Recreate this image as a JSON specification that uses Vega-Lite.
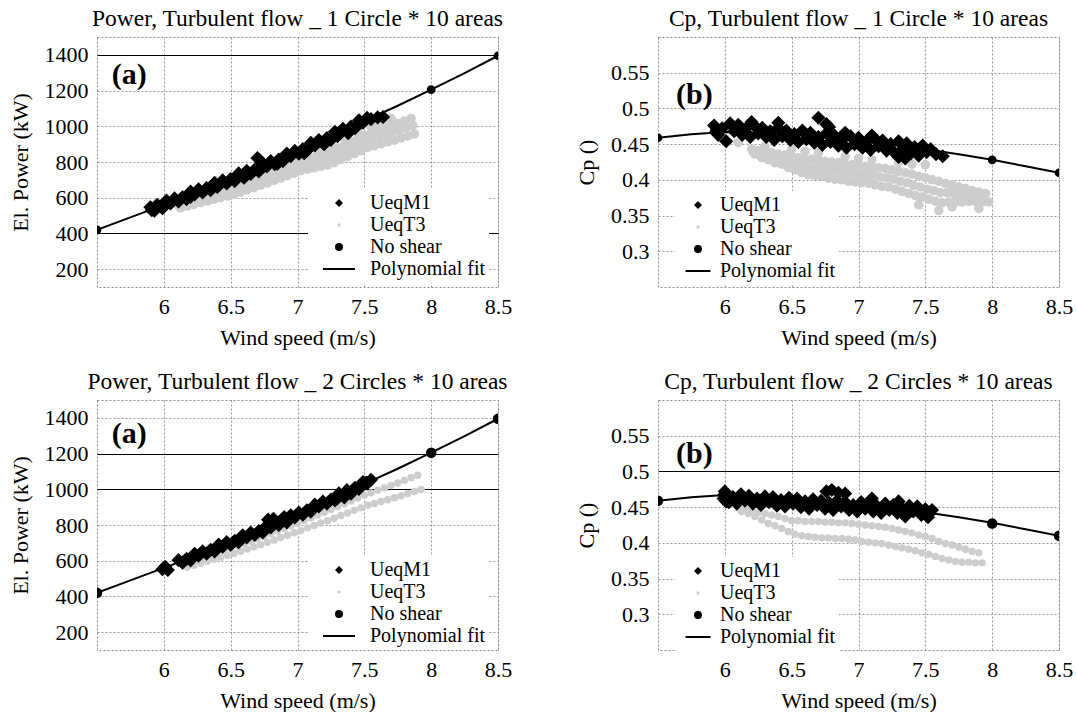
{
"$schema": "https://vega.github.io/schema/vega-lite/v6.json",
"background": "white",
"padding": {"left": 8, "top": 6, "right": 0, "bottom": 0},
"config": {
  "font": "Liberation Serif",
  "view": {"stroke": "#888", "strokeDash": [2, 2], "strokeWidth": 1},
  "style": {"guide-label": {"font": "Liberation Serif", "fill": "#000"}, "guide-title": {"font": "Liberation Serif", "fill": "#000"}},
  "axis": {"labelFont": "Liberation Serif", "labelFontSize": 22, "labelColor": "#000", "titleFont": "Liberation Serif", "titleFontSize": 22, "titleFontWeight": "normal", "titleColor": "#000", "ticks": false, "domain": false, "grid": true, "gridColor": "#999", "gridDash": [2, 2], "gridOpacity": 1, "labelPadding": 9, "labelFlush": false, "labelOverlap": false},
  "axisX": {"titlePadding": 10},
  "axisY": {"titlePadding": 12},
  "title": {"font": "Liberation Serif", "fontSize": 23.5, "fontWeight": "normal", "color": "#000", "offset": 7},
  "legend": {"labelFont": "Liberation Serif", "labelFontSize": 20, "labelColor": "#000"}
},
"datasets": {
"power1": [
{"s":"UeqT3","x":6.1,"y":563},{"s":"UeqT3","x":6.125,"y":543},{"s":"UeqT3","x":6.15,"y":575},{"s":"UeqT3","x":6.175,"y":553},{"s":"UeqT3","x":6.2,"y":586},{"s":"UeqT3","x":6.225,"y":562},{"s":"UeqT3","x":6.25,"y":598},{"s":"UeqT3","x":6.275,"y":572},{"s":"UeqT3","x":6.3,"y":609},{"s":"UeqT3","x":6.325,"y":581},{"s":"UeqT3","x":6.35,"y":621},{"s":"UeqT3","x":6.375,"y":591},{"s":"UeqT3","x":6.4,"y":632},{"s":"UeqT3","x":6.425,"y":600},{"s":"UeqT3","x":6.45,"y":644},{"s":"UeqT3","x":6.475,"y":610},{"s":"UeqT3","x":6.5,"y":655},{"s":"UeqT3","x":6.525,"y":619},{"s":"UeqT3","x":6.55,"y":669},{"s":"UeqT3","x":6.575,"y":631},{"s":"UeqT3","x":6.6,"y":683},{"s":"UeqT3","x":6.625,"y":645},{"s":"UeqT3","x":6.65,"y":696},{"s":"UeqT3","x":6.675,"y":657},{"s":"UeqT3","x":6.7,"y":710},{"s":"UeqT3","x":6.725,"y":670},{"s":"UeqT3","x":6.75,"y":724},{"s":"UeqT3","x":6.775,"y":682},{"s":"UeqT3","x":6.8,"y":739},{"s":"UeqT3","x":6.825,"y":697},{"s":"UeqT3","x":6.85,"y":753},{"s":"UeqT3","x":6.875,"y":710},{"s":"UeqT3","x":6.9,"y":768},{"s":"UeqT3","x":6.925,"y":724},{"s":"UeqT3","x":6.95,"y":783},{"s":"UeqT3","x":6.975,"y":737},{"s":"UeqT3","x":7.0,"y":798},{"s":"UeqT3","x":7.025,"y":752},{"s":"UeqT3","x":7.05,"y":810},{"s":"UeqT3","x":7.075,"y":760},{"s":"UeqT3","x":7.1,"y":822},{"s":"UeqT3","x":7.125,"y":767},{"s":"UeqT3","x":7.15,"y":834},{"s":"UeqT3","x":7.175,"y":776},{"s":"UeqT3","x":7.2,"y":846},{"s":"UeqT3","x":7.225,"y":783},{"s":"UeqT3","x":7.25,"y":860},{"s":"UeqT3","x":7.275,"y":796},{"s":"UeqT3","x":7.3,"y":878},{"s":"UeqT3","x":7.325,"y":814},{"s":"UeqT3","x":7.35,"y":895},{"s":"UeqT3","x":7.375,"y":830},{"s":"UeqT3","x":7.4,"y":913},{"s":"UeqT3","x":7.425,"y":847},{"s":"UeqT3","x":7.45,"y":930},{"s":"UeqT3","x":7.475,"y":864},{"s":"UeqT3","x":7.5,"y":948},{"s":"UeqT3","x":7.525,"y":882},{"s":"UeqT3","x":7.55,"y":961},{"s":"UeqT3","x":7.575,"y":892},{"s":"UeqT3","x":7.6,"y":974},{"s":"UeqT3","x":7.625,"y":902},{"s":"UeqT3","x":7.65,"y":988},{"s":"UeqT3","x":7.675,"y":913},{"s":"UeqT3","x":7.7,"y":1001},{"s":"UeqT3","x":7.725,"y":922},{"s":"UeqT3","x":7.75,"y":1015},{"s":"UeqT3","x":7.775,"y":935},{"s":"UeqT3","x":7.8,"y":1029},{"s":"UeqT3","x":7.825,"y":946},{"s":"UeqT3","x":7.85,"y":1044},{"s":"UeqT3","x":7.875,"y":957},
{"s":"UeqT3","x":6.1125,"y":555},{"s":"UeqT3","x":6.1625,"y":566},{"s":"UeqT3","x":6.2125,"y":576},{"s":"UeqT3","x":6.2625,"y":587},{"s":"UeqT3","x":6.3125,"y":597},{"s":"UeqT3","x":6.3625,"y":608},{"s":"UeqT3","x":6.4125,"y":618},{"s":"UeqT3","x":6.4625,"y":629},{"s":"UeqT3","x":6.5125,"y":640},{"s":"UeqT3","x":6.5625,"y":654},{"s":"UeqT3","x":6.6125,"y":667},{"s":"UeqT3","x":6.6625,"y":680},{"s":"UeqT3","x":6.7125,"y":693},{"s":"UeqT3","x":6.7625,"y":707},{"s":"UeqT3","x":6.8125,"y":721},{"s":"UeqT3","x":6.8625,"y":735},{"s":"UeqT3","x":6.9125,"y":749},{"s":"UeqT3","x":6.9625,"y":764},{"s":"UeqT3","x":7.0125,"y":777},{"s":"UeqT3","x":7.0625,"y":787},{"s":"UeqT3","x":7.1125,"y":797},{"s":"UeqT3","x":7.1625,"y":807},{"s":"UeqT3","x":7.2125,"y":818},{"s":"UeqT3","x":7.2625,"y":832},{"s":"UeqT3","x":7.3125,"y":850},{"s":"UeqT3","x":7.3625,"y":867},{"s":"UeqT3","x":7.4125,"y":884},{"s":"UeqT3","x":7.4625,"y":901},{"s":"UeqT3","x":7.5125,"y":918},{"s":"UeqT3","x":7.5625,"y":929},{"s":"UeqT3","x":7.6125,"y":941},{"s":"UeqT3","x":7.6625,"y":953},{"s":"UeqT3","x":7.7125,"y":965},{"s":"UeqT3","x":7.7625,"y":978},{"s":"UeqT3","x":7.8125,"y":990},{"s":"UeqT3","x":7.8625,"y":1004},
{"s":"UeqT3","x":7.6,"y":1020},{"s":"UeqT3","x":7.7,"y":1045},{"s":"UeqT3","x":7.55,"y":1000},{"s":"UeqT3","x":7.65,"y":1035},{"s":"UeqT3","x":7.45,"y":975},{"s":"UeqT3","x":7.35,"y":940},{"s":"UeqT3","x":7.25,"y":905},{"s":"UeqT3","x":7.15,"y":870},{"s":"UeqT3","x":7.05,"y":835},{"s":"UeqT3","x":6.95,"y":805},{"s":"UeqT3","x":6.85,"y":775},{"s":"UeqT3","x":6.75,"y":745},{"s":"UeqT3","x":6.65,"y":715},{"s":"UeqT3","x":6.55,"y":690},{"s":"UeqT3","x":6.45,"y":660},{"s":"UeqT3","x":6.35,"y":633},
{"s":"UeqM1","x":5.9,"y":546},{"s":"UeqM1","x":5.93,"y":528},{"s":"UeqM1","x":5.96,"y":553},{"s":"UeqM1","x":5.99,"y":541},{"s":"UeqM1","x":6.02,"y":584},{"s":"UeqM1","x":6.05,"y":568},{"s":"UeqM1","x":6.08,"y":596},{"s":"UeqM1","x":6.11,"y":579},{"s":"UeqM1","x":6.14,"y":603},{"s":"UeqM1","x":6.17,"y":592},{"s":"UeqM1","x":6.2,"y":634},{"s":"UeqM1","x":6.23,"y":618},{"s":"UeqM1","x":6.26,"y":647},{"s":"UeqM1","x":6.29,"y":629},{"s":"UeqM1","x":6.32,"y":654},{"s":"UeqM1","x":6.35,"y":642},{"s":"UeqM1","x":6.38,"y":684},{"s":"UeqM1","x":6.41,"y":669},{"s":"UeqM1","x":6.44,"y":697},{"s":"UeqM1","x":6.47,"y":680},{"s":"UeqM1","x":6.5,"y":704},{"s":"UeqM1","x":6.53,"y":693},{"s":"UeqM1","x":6.56,"y":736},{"s":"UeqM1","x":6.59,"y":721},{"s":"UeqM1","x":6.62,"y":750},{"s":"UeqM1","x":6.65,"y":733},{"s":"UeqM1","x":6.68,"y":758},{"s":"UeqM1","x":6.71,"y":747},{"s":"UeqM1","x":6.74,"y":790},{"s":"UeqM1","x":6.77,"y":775},{"s":"UeqM1","x":6.8,"y":805},{"s":"UeqM1","x":6.83,"y":788},{"s":"UeqM1","x":6.86,"y":814},{"s":"UeqM1","x":6.89,"y":804},{"s":"UeqM1","x":6.92,"y":847},{"s":"UeqM1","x":6.95,"y":833},{"s":"UeqM1","x":6.98,"y":862},{"s":"UeqM1","x":7.01,"y":846},{"s":"UeqM1","x":7.04,"y":872},{"s":"UeqM1","x":7.07,"y":863},{"s":"UeqM1","x":7.1,"y":907},{"s":"UeqM1","x":7.13,"y":893},{"s":"UeqM1","x":7.16,"y":923},{"s":"UeqM1","x":7.19,"y":907},{"s":"UeqM1","x":7.22,"y":934},{"s":"UeqM1","x":7.25,"y":924},{"s":"UeqM1","x":7.28,"y":969},{"s":"UeqM1","x":7.31,"y":956},{"s":"UeqM1","x":7.34,"y":986},{"s":"UeqM1","x":7.37,"y":971},{"s":"UeqM1","x":7.4,"y":998},{"s":"UeqM1","x":7.43,"y":989},{"s":"UeqM1","x":7.46,"y":1034},{"s":"UeqM1","x":7.49,"y":1020},{"s":"UeqM1","x":7.52,"y":1047},{"s":"UeqM1","x":7.55,"y":1040},
{"s":"UeqM1","x":6.7,"y":822},{"s":"UeqM1","x":6.72,"y":808},{"s":"UeqM1","x":7.6,"y":1050},{"s":"UeqM1","x":7.64,"y":1052},{"s":"UeqM1","x":5.91,"y":530},{"s":"UeqM1","x":5.95,"y":560},{"s":"UeqM1","x":7.2,"y":900},{"s":"UeqM1","x":7.3,"y":945},{"s":"UeqM1","x":7.38,"y":962},{"s":"UeqM1","x":7.05,"y":850},{"s":"UeqM1","x":6.85,"y":790},{"s":"UeqM1","x":6.6,"y":712},{"s":"UeqM1","x":6.4,"y":660},{"s":"UeqM1","x":6.2,"y":605},
{"s":"No shear","x":5.5,"y":420},{"s":"No shear","x":5.92,"y":545},{"s":"No shear","x":7.5,"y":1030},{"s":"No shear","x":8.0,"y":1205},{"s":"No shear","x":8.5,"y":1395},
{"s":"Polynomial fit","x":5.5,"y":420},{"s":"Polynomial fit","x":5.75,"y":490},{"s":"Polynomial fit","x":6.0,"y":560},{"s":"Polynomial fit","x":6.25,"y":630},{"s":"Polynomial fit","x":6.5,"y":700},{"s":"Polynomial fit","x":6.75,"y":775},{"s":"Polynomial fit","x":7.0,"y":855},{"s":"Polynomial fit","x":7.25,"y":940},{"s":"Polynomial fit","x":7.5,"y":1030},{"s":"Polynomial fit","x":7.75,"y":1115},{"s":"Polynomial fit","x":8.0,"y":1205},{"s":"Polynomial fit","x":8.25,"y":1298},{"s":"Polynomial fit","x":8.5,"y":1395}
],
"cp1": [
{"s":"UeqT3","x":6.2,"y":0.443},{"s":"UeqT3","x":6.225,"y":0.436},{"s":"UeqT3","x":6.25,"y":0.441},{"s":"UeqT3","x":6.275,"y":0.431},{"s":"UeqT3","x":6.3,"y":0.44},{"s":"UeqT3","x":6.325,"y":0.428},{"s":"UeqT3","x":6.35,"y":0.438},{"s":"UeqT3","x":6.375,"y":0.424},{"s":"UeqT3","x":6.4,"y":0.436},{"s":"UeqT3","x":6.425,"y":0.422},{"s":"UeqT3","x":6.45,"y":0.435},{"s":"UeqT3","x":6.475,"y":0.417},{"s":"UeqT3","x":6.5,"y":0.433},{"s":"UeqT3","x":6.525,"y":0.414},{"s":"UeqT3","x":6.55,"y":0.431},{"s":"UeqT3","x":6.575,"y":0.41},{"s":"UeqT3","x":6.6,"y":0.429},{"s":"UeqT3","x":6.625,"y":0.407},{"s":"UeqT3","x":6.65,"y":0.429},{"s":"UeqT3","x":6.675,"y":0.406},{"s":"UeqT3","x":6.7,"y":0.428},{"s":"UeqT3","x":6.725,"y":0.405},{"s":"UeqT3","x":6.75,"y":0.426},{"s":"UeqT3","x":6.775,"y":0.402},{"s":"UeqT3","x":6.8,"y":0.425},{"s":"UeqT3","x":6.825,"y":0.401},{"s":"UeqT3","x":6.85,"y":0.424},{"s":"UeqT3","x":6.875,"y":0.4},{"s":"UeqT3","x":6.9,"y":0.422},{"s":"UeqT3","x":6.925,"y":0.398},{"s":"UeqT3","x":6.95,"y":0.421},{"s":"UeqT3","x":6.975,"y":0.397},{"s":"UeqT3","x":7.0,"y":0.42},{"s":"UeqT3","x":7.025,"y":0.396},{"s":"UeqT3","x":7.05,"y":0.419},{"s":"UeqT3","x":7.075,"y":0.395},{"s":"UeqT3","x":7.1,"y":0.418},{"s":"UeqT3","x":7.125,"y":0.393},{"s":"UeqT3","x":7.15,"y":0.417},{"s":"UeqT3","x":7.175,"y":0.391},{"s":"UeqT3","x":7.2,"y":0.416},{"s":"UeqT3","x":7.225,"y":0.39},{"s":"UeqT3","x":7.25,"y":0.414},{"s":"UeqT3","x":7.275,"y":0.387},{"s":"UeqT3","x":7.3,"y":0.412},{"s":"UeqT3","x":7.325,"y":0.384},{"s":"UeqT3","x":7.35,"y":0.41},{"s":"UeqT3","x":7.375,"y":0.381},{"s":"UeqT3","x":7.4,"y":0.408},{"s":"UeqT3","x":7.425,"y":0.378},{"s":"UeqT3","x":7.45,"y":0.405},{"s":"UeqT3","x":7.475,"y":0.376},{"s":"UeqT3","x":7.5,"y":0.403},{"s":"UeqT3","x":7.525,"y":0.373},{"s":"UeqT3","x":7.55,"y":0.4},{"s":"UeqT3","x":7.575,"y":0.37},{"s":"UeqT3","x":7.6,"y":0.398},{"s":"UeqT3","x":7.625,"y":0.368},{"s":"UeqT3","x":7.65,"y":0.395},{"s":"UeqT3","x":7.675,"y":0.369},{"s":"UeqT3","x":7.7,"y":0.393},{"s":"UeqT3","x":7.725,"y":0.369},{"s":"UeqT3","x":7.75,"y":0.39},{"s":"UeqT3","x":7.775,"y":0.369},{"s":"UeqT3","x":7.8,"y":0.388},{"s":"UeqT3","x":7.825,"y":0.37},{"s":"UeqT3","x":7.85,"y":0.385},{"s":"UeqT3","x":7.875,"y":0.37},{"s":"UeqT3","x":7.9,"y":0.383},{"s":"UeqT3","x":7.925,"y":0.369},{"s":"UeqT3","x":7.95,"y":0.381},{"s":"UeqT3","x":7.975,"y":0.369},
{"s":"UeqT3","x":6.2125,"y":0.439},{"s":"UeqT3","x":6.2625,"y":0.436},{"s":"UeqT3","x":6.3125,"y":0.434},{"s":"UeqT3","x":6.3625,"y":0.431},{"s":"UeqT3","x":6.4125,"y":0.429},{"s":"UeqT3","x":6.4625,"y":0.426},{"s":"UeqT3","x":6.5125,"y":0.423},{"s":"UeqT3","x":6.5625,"y":0.42},{"s":"UeqT3","x":6.6125,"y":0.418},{"s":"UeqT3","x":6.6625,"y":0.417},{"s":"UeqT3","x":6.7125,"y":0.416},{"s":"UeqT3","x":6.7625,"y":0.414},{"s":"UeqT3","x":6.8125,"y":0.413},{"s":"UeqT3","x":6.8625,"y":0.412},{"s":"UeqT3","x":6.9125,"y":0.41},{"s":"UeqT3","x":6.9625,"y":0.409},{"s":"UeqT3","x":7.0125,"y":0.408},{"s":"UeqT3","x":7.0625,"y":0.407},{"s":"UeqT3","x":7.1125,"y":0.406},{"s":"UeqT3","x":7.1625,"y":0.404},{"s":"UeqT3","x":7.2125,"y":0.403},{"s":"UeqT3","x":7.2625,"y":0.401},{"s":"UeqT3","x":7.3125,"y":0.398},{"s":"UeqT3","x":7.3625,"y":0.396},{"s":"UeqT3","x":7.4125,"y":0.392},{"s":"UeqT3","x":7.4625,"y":0.39},{"s":"UeqT3","x":7.5125,"y":0.387},{"s":"UeqT3","x":7.5625,"y":0.385},{"s":"UeqT3","x":7.6125,"y":0.382},{"s":"UeqT3","x":7.6625,"y":0.382},{"s":"UeqT3","x":7.7125,"y":0.381},{"s":"UeqT3","x":7.7625,"y":0.379},{"s":"UeqT3","x":7.8125,"y":0.378},{"s":"UeqT3","x":7.8625,"y":0.378},{"s":"UeqT3","x":7.9125,"y":0.376},
{"s":"UeqT3","x":6.1,"y":0.452},{"s":"UeqT3","x":6.3,"y":0.447},{"s":"UeqT3","x":6.5,"y":0.443},{"s":"UeqT3","x":6.6,"y":0.44},{"s":"UeqT3","x":6.7,"y":0.438},{"s":"UeqT3","x":6.9,"y":0.433},{"s":"UeqT3","x":7.0,"y":0.43},{"s":"UeqT3","x":7.1,"y":0.428},{"s":"UeqT3","x":7.3,"y":0.424},{"s":"UeqT3","x":7.4,"y":0.422},{"s":"UeqT3","x":7.5,"y":0.421},{"s":"UeqT3","x":7.6,"y":0.357},{"s":"UeqT3","x":7.7,"y":0.362},{"s":"UeqT3","x":7.45,"y":0.365},{"s":"UeqT3","x":7.9,"y":0.36},
{"s":"UeqM1","x":5.92,"y":0.476},{"s":"UeqM1","x":5.95,"y":0.463},{"s":"UeqM1","x":5.98,"y":0.472},{"s":"UeqM1","x":6.01,"y":0.454},{"s":"UeqM1","x":6.04,"y":0.479},{"s":"UeqM1","x":6.07,"y":0.468},{"s":"UeqM1","x":6.1,"y":0.477},{"s":"UeqM1","x":6.13,"y":0.463},{"s":"UeqM1","x":6.16,"y":0.472},{"s":"UeqM1","x":6.19,"y":0.46},{"s":"UeqM1","x":6.22,"y":0.476},{"s":"UeqM1","x":6.25,"y":0.465},{"s":"UeqM1","x":6.28,"y":0.473},{"s":"UeqM1","x":6.31,"y":0.46},{"s":"UeqM1","x":6.34,"y":0.468},{"s":"UeqM1","x":6.37,"y":0.456},{"s":"UeqM1","x":6.4,"y":0.473},{"s":"UeqM1","x":6.43,"y":0.461},{"s":"UeqM1","x":6.46,"y":0.469},{"s":"UeqM1","x":6.49,"y":0.456},{"s":"UeqM1","x":6.52,"y":0.464},{"s":"UeqM1","x":6.55,"y":0.453},{"s":"UeqM1","x":6.58,"y":0.469},{"s":"UeqM1","x":6.61,"y":0.457},{"s":"UeqM1","x":6.64,"y":0.466},{"s":"UeqM1","x":6.67,"y":0.452},{"s":"UeqM1","x":6.7,"y":0.46},{"s":"UeqM1","x":6.73,"y":0.449},{"s":"UeqM1","x":6.76,"y":0.465},{"s":"UeqM1","x":6.79,"y":0.453},{"s":"UeqM1","x":6.82,"y":0.462},{"s":"UeqM1","x":6.85,"y":0.448},{"s":"UeqM1","x":6.88,"y":0.457},{"s":"UeqM1","x":6.91,"y":0.445},{"s":"UeqM1","x":6.94,"y":0.461},{"s":"UeqM1","x":6.97,"y":0.45},{"s":"UeqM1","x":7.0,"y":0.459},{"s":"UeqM1","x":7.03,"y":0.445},{"s":"UeqM1","x":7.06,"y":0.454},{"s":"UeqM1","x":7.09,"y":0.442},{"s":"UeqM1","x":7.12,"y":0.458},{"s":"UeqM1","x":7.15,"y":0.447},{"s":"UeqM1","x":7.18,"y":0.455},{"s":"UeqM1","x":7.21,"y":0.441},{"s":"UeqM1","x":7.24,"y":0.45},{"s":"UeqM1","x":7.27,"y":0.438},{"s":"UeqM1","x":7.3,"y":0.454},{"s":"UeqM1","x":7.33,"y":0.443},{"s":"UeqM1","x":7.36,"y":0.451},{"s":"UeqM1","x":7.39,"y":0.437},{"s":"UeqM1","x":7.42,"y":0.446},{"s":"UeqM1","x":7.45,"y":0.434},{"s":"UeqM1","x":7.48,"y":0.448},{"s":"UeqM1","x":7.51,"y":0.439},{"s":"UeqM1","x":7.54,"y":0.443},
{"s":"UeqM1","x":6.7,"y":0.487},{"s":"UeqM1","x":6.76,"y":0.478},{"s":"UeqM1","x":6.78,"y":0.474},{"s":"UeqM1","x":7.58,"y":0.436},{"s":"UeqM1","x":7.63,"y":0.433},{"s":"UeqM1","x":7.3,"y":0.432},{"s":"UeqM1","x":7.35,"y":0.43},{"s":"UeqM1","x":6.9,"y":0.466},{"s":"UeqM1","x":7.1,"y":0.462},{"s":"UeqM1","x":6.2,"y":0.481},{"s":"UeqM1","x":6.4,"y":0.48},
{"s":"No shear","x":5.5,"y":0.459},{"s":"No shear","x":5.92,"y":0.468},{"s":"No shear","x":7.5,"y":0.443},{"s":"No shear","x":8.0,"y":0.428},{"s":"No shear","x":8.5,"y":0.41},
{"s":"Polynomial fit","x":5.5,"y":0.459},{"s":"Polynomial fit","x":5.75,"y":0.464},{"s":"Polynomial fit","x":6.0,"y":0.467},{"s":"Polynomial fit","x":6.25,"y":0.466},{"s":"Polynomial fit","x":6.5,"y":0.463},{"s":"Polynomial fit","x":6.75,"y":0.459},{"s":"Polynomial fit","x":7.0,"y":0.454},{"s":"Polynomial fit","x":7.25,"y":0.449},{"s":"Polynomial fit","x":7.5,"y":0.443},{"s":"Polynomial fit","x":7.75,"y":0.436},{"s":"Polynomial fit","x":8.0,"y":0.428},{"s":"Polynomial fit","x":8.25,"y":0.419},{"s":"Polynomial fit","x":8.5,"y":0.41}
],
"power2": [
{"s":"UeqT3","x":6.15,"y":581},{"s":"UeqT3","x":6.175,"y":563},{"s":"UeqT3","x":6.2,"y":594},{"s":"UeqT3","x":6.225,"y":575},{"s":"UeqT3","x":6.25,"y":607},{"s":"UeqT3","x":6.275,"y":586},{"s":"UeqT3","x":6.3,"y":619},{"s":"UeqT3","x":6.325,"y":597},{"s":"UeqT3","x":6.35,"y":631},{"s":"UeqT3","x":6.375,"y":608},{"s":"UeqT3","x":6.4,"y":644},{"s":"UeqT3","x":6.425,"y":619},{"s":"UeqT3","x":6.45,"y":656},{"s":"UeqT3","x":6.475,"y":630},{"s":"UeqT3","x":6.5,"y":669},{"s":"UeqT3","x":6.525,"y":641},{"s":"UeqT3","x":6.55,"y":682},{"s":"UeqT3","x":6.575,"y":653},{"s":"UeqT3","x":6.6,"y":696},{"s":"UeqT3","x":6.625,"y":665},{"s":"UeqT3","x":6.65,"y":709},{"s":"UeqT3","x":6.675,"y":678},{"s":"UeqT3","x":6.7,"y":723},{"s":"UeqT3","x":6.725,"y":690},{"s":"UeqT3","x":6.75,"y":737},{"s":"UeqT3","x":6.775,"y":703},{"s":"UeqT3","x":6.8,"y":751},{"s":"UeqT3","x":6.825,"y":716},{"s":"UeqT3","x":6.85,"y":766},{"s":"UeqT3","x":6.875,"y":730},{"s":"UeqT3","x":6.9,"y":781},{"s":"UeqT3","x":6.925,"y":743},{"s":"UeqT3","x":6.95,"y":795},{"s":"UeqT3","x":6.975,"y":757},{"s":"UeqT3","x":7.0,"y":810},{"s":"UeqT3","x":7.025,"y":770},{"s":"UeqT3","x":7.05,"y":825},{"s":"UeqT3","x":7.075,"y":784},{"s":"UeqT3","x":7.1,"y":840},{"s":"UeqT3","x":7.125,"y":797},{"s":"UeqT3","x":7.15,"y":856},{"s":"UeqT3","x":7.175,"y":811},{"s":"UeqT3","x":7.2,"y":871},{"s":"UeqT3","x":7.225,"y":824},{"s":"UeqT3","x":7.25,"y":886},{"s":"UeqT3","x":7.275,"y":838},{"s":"UeqT3","x":7.3,"y":902},{"s":"UeqT3","x":7.325,"y":853},{"s":"UeqT3","x":7.35,"y":918},{"s":"UeqT3","x":7.375,"y":867},{"s":"UeqT3","x":7.4,"y":935},{"s":"UeqT3","x":7.425,"y":882},{"s":"UeqT3","x":7.45,"y":951},{"s":"UeqT3","x":7.475,"y":896},{"s":"UeqT3","x":7.5,"y":967},{"s":"UeqT3","x":7.525,"y":911},{"s":"UeqT3","x":7.55,"y":980},{"s":"UeqT3","x":7.575,"y":921},{"s":"UeqT3","x":7.6,"y":994},{"s":"UeqT3","x":7.625,"y":932},{"s":"UeqT3","x":7.65,"y":1008},{"s":"UeqT3","x":7.675,"y":942},{"s":"UeqT3","x":7.7,"y":1022},{"s":"UeqT3","x":7.725,"y":953},{"s":"UeqT3","x":7.75,"y":1035},{"s":"UeqT3","x":7.775,"y":964},{"s":"UeqT3","x":7.8,"y":1050},{"s":"UeqT3","x":7.825,"y":976},{"s":"UeqT3","x":7.85,"y":1065},{"s":"UeqT3","x":7.875,"y":988},{"s":"UeqT3","x":7.9,"y":1079},{"s":"UeqT3","x":7.925,"y":999},
{"s":"UeqM1","x":6.11,"y":603},{"s":"UeqM1","x":6.14,"y":589},{"s":"UeqM1","x":6.17,"y":611},{"s":"UeqM1","x":6.2,"y":602},{"s":"UeqM1","x":6.23,"y":639},{"s":"UeqM1","x":6.26,"y":628},{"s":"UeqM1","x":6.29,"y":653},{"s":"UeqM1","x":6.32,"y":640},{"s":"UeqM1","x":6.35,"y":661},{"s":"UeqM1","x":6.38,"y":652},{"s":"UeqM1","x":6.41,"y":690},{"s":"UeqM1","x":6.44,"y":678},{"s":"UeqM1","x":6.47,"y":704},{"s":"UeqM1","x":6.5,"y":690},{"s":"UeqM1","x":6.53,"y":712},{"s":"UeqM1","x":6.56,"y":704},{"s":"UeqM1","x":6.59,"y":742},{"s":"UeqM1","x":6.62,"y":731},{"s":"UeqM1","x":6.65,"y":757},{"s":"UeqM1","x":6.68,"y":744},{"s":"UeqM1","x":6.71,"y":766},{"s":"UeqM1","x":6.74,"y":758},{"s":"UeqM1","x":6.77,"y":796},{"s":"UeqM1","x":6.8,"y":786},{"s":"UeqM1","x":6.83,"y":812},{"s":"UeqM1","x":6.86,"y":800},{"s":"UeqM1","x":6.89,"y":823},{"s":"UeqM1","x":6.92,"y":815},{"s":"UeqM1","x":6.95,"y":854},{"s":"UeqM1","x":6.98,"y":843},{"s":"UeqM1","x":7.01,"y":870},{"s":"UeqM1","x":7.04,"y":858},{"s":"UeqM1","x":7.07,"y":882},{"s":"UeqM1","x":7.1,"y":875},{"s":"UeqM1","x":7.13,"y":914},{"s":"UeqM1","x":7.16,"y":904},{"s":"UeqM1","x":7.19,"y":931},{"s":"UeqM1","x":7.22,"y":920},{"s":"UeqM1","x":7.25,"y":943},{"s":"UeqM1","x":7.28,"y":937},{"s":"UeqM1","x":7.31,"y":977},{"s":"UeqM1","x":7.34,"y":967},{"s":"UeqM1","x":7.37,"y":995},{"s":"UeqM1","x":7.4,"y":984},{"s":"UeqM1","x":7.43,"y":1008},{"s":"UeqM1","x":7.46,"y":1002},{"s":"UeqM1","x":7.49,"y":1041},{"s":"UeqM1","x":7.52,"y":1032},{"s":"UeqM1","x":7.55,"y":1053},
{"s":"UeqM1","x":6.78,"y":830},{"s":"UeqM1","x":6.82,"y":835},{"s":"UeqM1","x":6.9,"y":845},{"s":"UeqM1","x":7.35,"y":955},{"s":"UeqM1","x":7.4,"y":975},{"s":"UeqM1","x":7.3,"y":950},{"s":"UeqM1","x":5.99,"y":552},{"s":"UeqM1","x":6.01,"y":566},{"s":"UeqM1","x":6.03,"y":548},
{"s":"No shear","x":5.5,"y":420},{"s":"No shear","x":6.0,"y":558},{"s":"No shear","x":7.52,"y":1045},{"s":"No shear","x":8.0,"y":1205},{"s":"No shear","x":8.5,"y":1395},
{"s":"Polynomial fit","x":5.5,"y":420},{"s":"Polynomial fit","x":5.75,"y":490},{"s":"Polynomial fit","x":6.0,"y":560},{"s":"Polynomial fit","x":6.25,"y":630},{"s":"Polynomial fit","x":6.5,"y":700},{"s":"Polynomial fit","x":6.75,"y":775},{"s":"Polynomial fit","x":7.0,"y":855},{"s":"Polynomial fit","x":7.25,"y":940},{"s":"Polynomial fit","x":7.5,"y":1030},{"s":"Polynomial fit","x":7.75,"y":1115},{"s":"Polynomial fit","x":8.0,"y":1205},{"s":"Polynomial fit","x":8.25,"y":1298},{"s":"Polynomial fit","x":8.5,"y":1395}
],
"cp2": [
{"s":"UeqT3","x":6.1,"y":0.449},{"s":"UeqT3","x":6.125,"y":0.444},{"s":"UeqT3","x":6.15,"y":0.447},{"s":"UeqT3","x":6.175,"y":0.441},{"s":"UeqT3","x":6.2,"y":0.446},{"s":"UeqT3","x":6.225,"y":0.437},{"s":"UeqT3","x":6.25,"y":0.443},{"s":"UeqT3","x":6.275,"y":0.432},{"s":"UeqT3","x":6.3,"y":0.441},{"s":"UeqT3","x":6.325,"y":0.427},{"s":"UeqT3","x":6.35,"y":0.439},{"s":"UeqT3","x":6.375,"y":0.424},{"s":"UeqT3","x":6.4,"y":0.437},{"s":"UeqT3","x":6.425,"y":0.42},{"s":"UeqT3","x":6.45,"y":0.434},{"s":"UeqT3","x":6.475,"y":0.416},{"s":"UeqT3","x":6.5,"y":0.431},{"s":"UeqT3","x":6.525,"y":0.412},{"s":"UeqT3","x":6.55,"y":0.431},{"s":"UeqT3","x":6.575,"y":0.41},{"s":"UeqT3","x":6.6,"y":0.43},{"s":"UeqT3","x":6.625,"y":0.409},{"s":"UeqT3","x":6.65,"y":0.43},{"s":"UeqT3","x":6.675,"y":0.408},{"s":"UeqT3","x":6.7,"y":0.43},{"s":"UeqT3","x":6.725,"y":0.407},{"s":"UeqT3","x":6.75,"y":0.429},{"s":"UeqT3","x":6.775,"y":0.407},{"s":"UeqT3","x":6.8,"y":0.429},{"s":"UeqT3","x":6.825,"y":0.406},{"s":"UeqT3","x":6.85,"y":0.428},{"s":"UeqT3","x":6.875,"y":0.406},{"s":"UeqT3","x":6.9,"y":0.428},{"s":"UeqT3","x":6.925,"y":0.405},{"s":"UeqT3","x":6.95,"y":0.427},{"s":"UeqT3","x":6.975,"y":0.404},{"s":"UeqT3","x":7.0,"y":0.426},{"s":"UeqT3","x":7.025,"y":0.402},{"s":"UeqT3","x":7.05,"y":0.425},{"s":"UeqT3","x":7.075,"y":0.401},{"s":"UeqT3","x":7.1,"y":0.424},{"s":"UeqT3","x":7.125,"y":0.4},{"s":"UeqT3","x":7.15,"y":0.423},{"s":"UeqT3","x":7.175,"y":0.399},{"s":"UeqT3","x":7.2,"y":0.422},{"s":"UeqT3","x":7.225,"y":0.397},{"s":"UeqT3","x":7.25,"y":0.42},{"s":"UeqT3","x":7.275,"y":0.395},{"s":"UeqT3","x":7.3,"y":0.418},{"s":"UeqT3","x":7.325,"y":0.393},{"s":"UeqT3","x":7.35,"y":0.416},{"s":"UeqT3","x":7.375,"y":0.391},{"s":"UeqT3","x":7.4,"y":0.414},{"s":"UeqT3","x":7.425,"y":0.389},{"s":"UeqT3","x":7.45,"y":0.411},{"s":"UeqT3","x":7.475,"y":0.386},{"s":"UeqT3","x":7.5,"y":0.409},{"s":"UeqT3","x":7.525,"y":0.384},{"s":"UeqT3","x":7.55,"y":0.406},{"s":"UeqT3","x":7.575,"y":0.381},{"s":"UeqT3","x":7.6,"y":0.402},{"s":"UeqT3","x":7.625,"y":0.378},{"s":"UeqT3","x":7.65,"y":0.399},{"s":"UeqT3","x":7.675,"y":0.376},{"s":"UeqT3","x":7.7,"y":0.397},{"s":"UeqT3","x":7.725,"y":0.374},{"s":"UeqT3","x":7.75,"y":0.394},{"s":"UeqT3","x":7.775,"y":0.373},{"s":"UeqT3","x":7.8,"y":0.391},{"s":"UeqT3","x":7.825,"y":0.373},{"s":"UeqT3","x":7.85,"y":0.388},{"s":"UeqT3","x":7.875,"y":0.372},{"s":"UeqT3","x":7.9,"y":0.386},{"s":"UeqT3","x":7.925,"y":0.372},
{"s":"UeqM1","x":6.0,"y":0.468},{"s":"UeqM1","x":6.03,"y":0.457},{"s":"UeqM1","x":6.06,"y":0.464},{"s":"UeqM1","x":6.09,"y":0.455},{"s":"UeqM1","x":6.12,"y":0.468},{"s":"UeqM1","x":6.15,"y":0.459},{"s":"UeqM1","x":6.18,"y":0.466},{"s":"UeqM1","x":6.21,"y":0.455},{"s":"UeqM1","x":6.24,"y":0.462},{"s":"UeqM1","x":6.27,"y":0.453},{"s":"UeqM1","x":6.3,"y":0.465},{"s":"UeqM1","x":6.33,"y":0.457},{"s":"UeqM1","x":6.36,"y":0.464},{"s":"UeqM1","x":6.39,"y":0.452},{"s":"UeqM1","x":6.42,"y":0.46},{"s":"UeqM1","x":6.45,"y":0.451},{"s":"UeqM1","x":6.48,"y":0.463},{"s":"UeqM1","x":6.51,"y":0.455},{"s":"UeqM1","x":6.54,"y":0.462},{"s":"UeqM1","x":6.57,"y":0.45},{"s":"UeqM1","x":6.6,"y":0.458},{"s":"UeqM1","x":6.63,"y":0.448},{"s":"UeqM1","x":6.66,"y":0.461},{"s":"UeqM1","x":6.69,"y":0.453},{"s":"UeqM1","x":6.72,"y":0.459},{"s":"UeqM1","x":6.75,"y":0.448},{"s":"UeqM1","x":6.78,"y":0.456},{"s":"UeqM1","x":6.81,"y":0.446},{"s":"UeqM1","x":6.84,"y":0.459},{"s":"UeqM1","x":6.87,"y":0.451},{"s":"UeqM1","x":6.9,"y":0.457},{"s":"UeqM1","x":6.93,"y":0.446},{"s":"UeqM1","x":6.96,"y":0.453},{"s":"UeqM1","x":6.99,"y":0.444},{"s":"UeqM1","x":7.02,"y":0.457},{"s":"UeqM1","x":7.05,"y":0.448},{"s":"UeqM1","x":7.08,"y":0.455},{"s":"UeqM1","x":7.11,"y":0.444},{"s":"UeqM1","x":7.14,"y":0.451},{"s":"UeqM1","x":7.17,"y":0.442},{"s":"UeqM1","x":7.2,"y":0.455},{"s":"UeqM1","x":7.23,"y":0.446},{"s":"UeqM1","x":7.26,"y":0.453},{"s":"UeqM1","x":7.29,"y":0.442},{"s":"UeqM1","x":7.32,"y":0.449},{"s":"UeqM1","x":7.35,"y":0.44},{"s":"UeqM1","x":7.38,"y":0.452},{"s":"UeqM1","x":7.41,"y":0.444},{"s":"UeqM1","x":7.44,"y":0.451},{"s":"UeqM1","x":7.47,"y":0.439},{"s":"UeqM1","x":7.5,"y":0.447},{"s":"UeqM1","x":7.53,"y":0.441},
{"s":"UeqM1","x":6.76,"y":0.472},{"s":"UeqM1","x":6.8,"y":0.474},{"s":"UeqM1","x":6.85,"y":0.47},{"s":"UeqM1","x":6.9,"y":0.469},{"s":"UeqM1","x":6.0,"y":0.472},{"s":"UeqM1","x":6.01,"y":0.458},{"s":"UeqM1","x":5.99,"y":0.462},{"s":"UeqM1","x":7.35,"y":0.437},{"s":"UeqM1","x":7.52,"y":0.436},{"s":"UeqM1","x":7.55,"y":0.446},{"s":"UeqM1","x":7.1,"y":0.462},{"s":"UeqM1","x":7.3,"y":0.458},
{"s":"No shear","x":5.5,"y":0.459},{"s":"No shear","x":6.0,"y":0.467},{"s":"No shear","x":7.52,"y":0.443},{"s":"No shear","x":8.0,"y":0.427},{"s":"No shear","x":8.5,"y":0.41},
{"s":"Polynomial fit","x":5.5,"y":0.459},{"s":"Polynomial fit","x":5.75,"y":0.464},{"s":"Polynomial fit","x":6.0,"y":0.467},{"s":"Polynomial fit","x":6.25,"y":0.466},{"s":"Polynomial fit","x":6.5,"y":0.463},{"s":"Polynomial fit","x":6.75,"y":0.459},{"s":"Polynomial fit","x":7.0,"y":0.454},{"s":"Polynomial fit","x":7.25,"y":0.449},{"s":"Polynomial fit","x":7.5,"y":0.443},{"s":"Polynomial fit","x":7.75,"y":0.436},{"s":"Polynomial fit","x":8.0,"y":0.428},{"s":"Polynomial fit","x":8.25,"y":0.419},{"s":"Polynomial fit","x":8.5,"y":0.41}
]
},
"columns": 2,
"spacing": {"row": 113, "column": 160},
"bounds": "flush",
"resolve": {
  "scale": {"x": "independent", "y": "independent", "fill": "independent", "stroke": "independent", "shape": "independent"},
  "legend": {"fill": "independent", "stroke": "independent", "shape": "independent"},
  "axis": {"x": "independent", "y": "independent"}
},
"concat": [
{
 "width": 401, "height": 250,
 "title": "Power, Turbulent flow _ 1 Circle * 10 areas",
 "data": {"name": "power1"},
 "layer": [
  {"transform": [{"filter": "datum.s === 'UeqT3'"}],
   "mark": {"type": "point", "filled": true, "size": 90, "strokeWidth": 0, "opacity": 1, "clip": true},
   "encoding": {
     "x": {"field": "x", "type": "quantitative", "scale": {"domain": [5.5, 8.5], "nice": false, "zero": false}, "axis": {"values": [6, 6.5, 7, 7.5, 8, 8.5], "format": "~g", "title": "Wind speed (m/s)"}},
     "y": {"field": "y", "type": "quantitative", "scale": {"domain": [100, 1500], "nice": false, "zero": false}, "axis": {"values": [200, 400, 600, 800, 1000, 1200, 1400], "format": "d", "title": "El. Power (kW)", "gridColor": {"condition": {"test": "datum.value === 1400 || datum.value === 400", "value": "#000"}, "value": "#999"}, "gridDash": {"condition": {"test": "datum.value === 1400 || datum.value === 400", "value": []}, "value": [2, 2]}}},
     "fill": {"field": "s", "type": "nominal", "scale": {"domain": ["UeqM1", "UeqT3", "No shear", "Polynomial fit"], "range": ["#000000", "#cdcdcd", "#000000", "#000000"]}, "legend": {"title": null, "orient": "none", "legendX": 211, "legendY": 152, "fillColor": "white", "padding": 4, "rowPadding": 2, "labelOffset": 21, "symbolOffset": 17, "labelFontSize": 20, "labelFont": "Liberation Serif", "symbolSize": {"expr": "datum.value === 'Polynomial fit' ? 1024 : datum.value === 'UeqT3' ? 12 : 64"}, "symbolStrokeWidth": {"expr": "datum.value === 'Polynomial fit' ? 2 : 0"}}},
     "stroke": {"field": "s", "type": "nominal", "scale": {"domain": ["UeqM1", "UeqT3", "No shear", "Polynomial fit"], "range": ["#000000", "#cdcdcd", "#000000", "#000000"]}, "legend": {"title": null, "orient": "none", "legendX": 211, "legendY": 152, "fillColor": "white", "padding": 4, "rowPadding": 2, "labelOffset": 21, "symbolOffset": 17, "labelFontSize": 20, "labelFont": "Liberation Serif", "symbolSize": {"expr": "datum.value === 'Polynomial fit' ? 1024 : datum.value === 'UeqT3' ? 12 : 64"}, "symbolStrokeWidth": {"expr": "datum.value === 'Polynomial fit' ? 2 : 0"}}},
     "shape": {"field": "s", "type": "nominal", "scale": {"domain": ["UeqM1", "UeqT3", "No shear", "Polynomial fit"], "range": ["diamond", "circle", "circle", "stroke"]}, "legend": {"title": null, "orient": "none", "legendX": 211, "legendY": 152, "fillColor": "white", "padding": 4, "rowPadding": 2, "labelOffset": 21, "symbolOffset": 17, "labelFontSize": 20, "labelFont": "Liberation Serif", "symbolSize": {"expr": "datum.value === 'Polynomial fit' ? 1024 : datum.value === 'UeqT3' ? 12 : 64"}, "symbolStrokeWidth": {"expr": "datum.value === 'Polynomial fit' ? 2 : 0"}}}
   }},
  {"transform": [{"filter": "datum.s === 'UeqM1'"}],
   "mark": {"type": "point", "filled": true, "size": 200, "strokeWidth": 0, "opacity": 1, "clip": true},
   "encoding": {
     "x": {"field": "x", "type": "quantitative"}, "y": {"field": "y", "type": "quantitative"},
     "fill": {"field": "s", "type": "nominal", "scale": {"domain": ["UeqM1", "UeqT3", "No shear", "Polynomial fit"], "range": ["#000000", "#cdcdcd", "#000000", "#000000"]}},
     "stroke": {"field": "s", "type": "nominal", "scale": {"domain": ["UeqM1", "UeqT3", "No shear", "Polynomial fit"], "range": ["#000000", "#cdcdcd", "#000000", "#000000"]}},
     "shape": {"field": "s", "type": "nominal", "scale": {"domain": ["UeqM1", "UeqT3", "No shear", "Polynomial fit"], "range": ["diamond", "circle", "circle", "stroke"]}}
   }},
  {"transform": [{"filter": "datum.s === 'Polynomial fit'"}],
   "mark": {"type": "line", "strokeWidth": 2, "clip": true},
   "encoding": {"x": {"field": "x", "type": "quantitative"}, "y": {"field": "y", "type": "quantitative"}, "stroke": {"field": "s", "type": "nominal", "scale": {"domain": ["UeqM1", "UeqT3", "No shear", "Polynomial fit"], "range": ["#000000", "#cdcdcd", "#000000", "#000000"]}}}},
  {"transform": [{"filter": "datum.s === 'No shear'"}],
   "mark": {"type": "point", "filled": true, "size": 75, "strokeWidth": 0, "opacity": 1, "clip": true},
   "encoding": {
     "x": {"field": "x", "type": "quantitative"}, "y": {"field": "y", "type": "quantitative"},
     "fill": {"field": "s", "type": "nominal", "scale": {"domain": ["UeqM1", "UeqT3", "No shear", "Polynomial fit"], "range": ["#000000", "#cdcdcd", "#000000", "#000000"]}},
     "stroke": {"field": "s", "type": "nominal", "scale": {"domain": ["UeqM1", "UeqT3", "No shear", "Polynomial fit"], "range": ["#000000", "#cdcdcd", "#000000", "#000000"]}},
     "shape": {"field": "s", "type": "nominal", "scale": {"domain": ["UeqM1", "UeqT3", "No shear", "Polynomial fit"], "range": ["diamond", "circle", "circle", "stroke"]}}
   }},
  {"data": {"values": [{"label": "(a)"}]},
   "mark": {"type": "text", "font": "Liberation Serif", "fontSize": 30, "fontWeight": "bold", "align": "left", "baseline": "middle", "fill": "#000"},
   "encoding": {"x": {"datum": 5.61, "type": "quantitative"}, "y": {"datum": 1285, "type": "quantitative"}, "text": {"field": "label", "type": "nominal"}}}
 ]
},
{
 "width": 401, "height": 250,
 "title": "Cp, Turbulent flow _ 1 Circle * 10 areas",
 "data": {"name": "cp1"},
 "layer": [
  {"transform": [{"filter": "datum.s === 'UeqT3'"}],
   "mark": {"type": "point", "filled": true, "size": 90, "strokeWidth": 0, "opacity": 1, "clip": true},
   "encoding": {
     "x": {"field": "x", "type": "quantitative", "scale": {"domain": [5.5, 8.5], "nice": false, "zero": false}, "axis": {"values": [6, 6.5, 7, 7.5, 8, 8.5], "format": "~g", "title": "Wind speed (m/s)"}},
     "y": {"field": "y", "type": "quantitative", "scale": {"domain": [0.25, 0.6], "nice": false, "zero": false}, "axis": {"values": [0.3, 0.35, 0.4, 0.45, 0.5, 0.55], "format": ".2~f", "title": "Cp ()"}},
     "fill": {"field": "s", "type": "nominal", "scale": {"domain": ["UeqM1", "UeqT3", "No shear", "Polynomial fit"], "range": ["#000000", "#cdcdcd", "#000000", "#000000"]}, "legend": {"title": null, "orient": "none", "legendX": 17, "legendY": 154, "fillColor": "white", "padding": 4, "rowPadding": 2, "labelOffset": 12, "symbolOffset": 9, "labelFontSize": 20, "labelFont": "Liberation Serif", "symbolSize": {"expr": "datum.value === 'Polynomial fit' ? 625 : datum.value === 'UeqT3' ? 12 : 64"}, "symbolStrokeWidth": {"expr": "datum.value === 'Polynomial fit' ? 2 : 0"}}},
     "stroke": {"field": "s", "type": "nominal", "scale": {"domain": ["UeqM1", "UeqT3", "No shear", "Polynomial fit"], "range": ["#000000", "#cdcdcd", "#000000", "#000000"]}, "legend": {"title": null, "orient": "none", "legendX": 17, "legendY": 154, "fillColor": "white", "padding": 4, "rowPadding": 2, "labelOffset": 12, "symbolOffset": 9, "labelFontSize": 20, "labelFont": "Liberation Serif", "symbolSize": {"expr": "datum.value === 'Polynomial fit' ? 625 : datum.value === 'UeqT3' ? 12 : 64"}, "symbolStrokeWidth": {"expr": "datum.value === 'Polynomial fit' ? 2 : 0"}}},
     "shape": {"field": "s", "type": "nominal", "scale": {"domain": ["UeqM1", "UeqT3", "No shear", "Polynomial fit"], "range": ["diamond", "circle", "circle", "stroke"]}, "legend": {"title": null, "orient": "none", "legendX": 17, "legendY": 154, "fillColor": "white", "padding": 4, "rowPadding": 2, "labelOffset": 12, "symbolOffset": 9, "labelFontSize": 20, "labelFont": "Liberation Serif", "symbolSize": {"expr": "datum.value === 'Polynomial fit' ? 625 : datum.value === 'UeqT3' ? 12 : 64"}, "symbolStrokeWidth": {"expr": "datum.value === 'Polynomial fit' ? 2 : 0"}}}
   }},
  {"transform": [{"filter": "datum.s === 'UeqM1'"}],
   "mark": {"type": "point", "filled": true, "size": 200, "strokeWidth": 0, "opacity": 1, "clip": true},
   "encoding": {
     "x": {"field": "x", "type": "quantitative"}, "y": {"field": "y", "type": "quantitative"},
     "fill": {"field": "s", "type": "nominal", "scale": {"domain": ["UeqM1", "UeqT3", "No shear", "Polynomial fit"], "range": ["#000000", "#cdcdcd", "#000000", "#000000"]}},
     "stroke": {"field": "s", "type": "nominal", "scale": {"domain": ["UeqM1", "UeqT3", "No shear", "Polynomial fit"], "range": ["#000000", "#cdcdcd", "#000000", "#000000"]}},
     "shape": {"field": "s", "type": "nominal", "scale": {"domain": ["UeqM1", "UeqT3", "No shear", "Polynomial fit"], "range": ["diamond", "circle", "circle", "stroke"]}}
   }},
  {"transform": [{"filter": "datum.s === 'Polynomial fit'"}],
   "mark": {"type": "line", "strokeWidth": 2, "clip": true},
   "encoding": {"x": {"field": "x", "type": "quantitative"}, "y": {"field": "y", "type": "quantitative"}, "stroke": {"field": "s", "type": "nominal", "scale": {"domain": ["UeqM1", "UeqT3", "No shear", "Polynomial fit"], "range": ["#000000", "#cdcdcd", "#000000", "#000000"]}}}},
  {"transform": [{"filter": "datum.s === 'No shear'"}],
   "mark": {"type": "point", "filled": true, "size": 75, "strokeWidth": 0, "opacity": 1, "clip": true},
   "encoding": {
     "x": {"field": "x", "type": "quantitative"}, "y": {"field": "y", "type": "quantitative"},
     "fill": {"field": "s", "type": "nominal", "scale": {"domain": ["UeqM1", "UeqT3", "No shear", "Polynomial fit"], "range": ["#000000", "#cdcdcd", "#000000", "#000000"]}},
     "stroke": {"field": "s", "type": "nominal", "scale": {"domain": ["UeqM1", "UeqT3", "No shear", "Polynomial fit"], "range": ["#000000", "#cdcdcd", "#000000", "#000000"]}},
     "shape": {"field": "s", "type": "nominal", "scale": {"domain": ["UeqM1", "UeqT3", "No shear", "Polynomial fit"], "range": ["diamond", "circle", "circle", "stroke"]}}
   }},
  {"data": {"values": [{"label": "(b)"}]},
   "mark": {"type": "text", "font": "Liberation Serif", "fontSize": 30, "fontWeight": "bold", "align": "left", "baseline": "middle", "fill": "#000"},
   "encoding": {"x": {"datum": 5.635, "type": "quantitative"}, "y": {"datum": 0.519, "type": "quantitative"}, "text": {"field": "label", "type": "nominal"}}}
 ]
},
{
 "width": 401, "height": 250,
 "title": "Power, Turbulent flow _ 2 Circles * 10 areas",
 "data": {"name": "power2"},
 "layer": [
  {"transform": [{"filter": "datum.s === 'UeqT3'"}],
   "mark": {"type": "point", "filled": true, "size": 55, "strokeWidth": 0, "opacity": 1, "clip": true},
   "encoding": {
     "x": {"field": "x", "type": "quantitative", "scale": {"domain": [5.5, 8.5], "nice": false, "zero": false}, "axis": {"values": [6, 6.5, 7, 7.5, 8, 8.5], "format": "~g", "title": "Wind speed (m/s)"}},
     "y": {"field": "y", "type": "quantitative", "scale": {"domain": [100, 1500], "nice": false, "zero": false}, "axis": {"values": [200, 400, 600, 800, 1000, 1200, 1400], "format": "d", "title": "El. Power (kW)", "gridColor": {"condition": {"test": "datum.value === 1200 || datum.value === 1000", "value": "#000"}, "value": "#999"}, "gridDash": {"condition": {"test": "datum.value === 1200 || datum.value === 1000", "value": []}, "value": [2, 2]}}},
     "fill": {"field": "s", "type": "nominal", "scale": {"domain": ["UeqM1", "UeqT3", "No shear", "Polynomial fit"], "range": ["#000000", "#cdcdcd", "#000000", "#000000"]}, "legend": {"title": null, "orient": "none", "legendX": 211, "legendY": 156, "fillColor": "white", "padding": 4, "rowPadding": 2, "labelOffset": 21, "symbolOffset": 17, "labelFontSize": 20, "labelFont": "Liberation Serif", "symbolSize": {"expr": "datum.value === 'Polynomial fit' ? 1024 : datum.value === 'UeqT3' ? 12 : 64"}, "symbolStrokeWidth": {"expr": "datum.value === 'Polynomial fit' ? 2 : 0"}}},
     "stroke": {"field": "s", "type": "nominal", "scale": {"domain": ["UeqM1", "UeqT3", "No shear", "Polynomial fit"], "range": ["#000000", "#cdcdcd", "#000000", "#000000"]}, "legend": {"title": null, "orient": "none", "legendX": 211, "legendY": 156, "fillColor": "white", "padding": 4, "rowPadding": 2, "labelOffset": 21, "symbolOffset": 17, "labelFontSize": 20, "labelFont": "Liberation Serif", "symbolSize": {"expr": "datum.value === 'Polynomial fit' ? 1024 : datum.value === 'UeqT3' ? 12 : 64"}, "symbolStrokeWidth": {"expr": "datum.value === 'Polynomial fit' ? 2 : 0"}}},
     "shape": {"field": "s", "type": "nominal", "scale": {"domain": ["UeqM1", "UeqT3", "No shear", "Polynomial fit"], "range": ["diamond", "circle", "circle", "stroke"]}, "legend": {"title": null, "orient": "none", "legendX": 211, "legendY": 156, "fillColor": "white", "padding": 4, "rowPadding": 2, "labelOffset": 21, "symbolOffset": 17, "labelFontSize": 20, "labelFont": "Liberation Serif", "symbolSize": {"expr": "datum.value === 'Polynomial fit' ? 1024 : datum.value === 'UeqT3' ? 12 : 64"}, "symbolStrokeWidth": {"expr": "datum.value === 'Polynomial fit' ? 2 : 0"}}}
   }},
  {"transform": [{"filter": "datum.s === 'UeqM1'"}],
   "mark": {"type": "point", "filled": true, "size": 200, "strokeWidth": 0, "opacity": 1, "clip": true},
   "encoding": {
     "x": {"field": "x", "type": "quantitative"}, "y": {"field": "y", "type": "quantitative"},
     "fill": {"field": "s", "type": "nominal", "scale": {"domain": ["UeqM1", "UeqT3", "No shear", "Polynomial fit"], "range": ["#000000", "#cdcdcd", "#000000", "#000000"]}},
     "stroke": {"field": "s", "type": "nominal", "scale": {"domain": ["UeqM1", "UeqT3", "No shear", "Polynomial fit"], "range": ["#000000", "#cdcdcd", "#000000", "#000000"]}},
     "shape": {"field": "s", "type": "nominal", "scale": {"domain": ["UeqM1", "UeqT3", "No shear", "Polynomial fit"], "range": ["diamond", "circle", "circle", "stroke"]}}
   }},
  {"transform": [{"filter": "datum.s === 'Polynomial fit'"}],
   "mark": {"type": "line", "strokeWidth": 2, "clip": true},
   "encoding": {"x": {"field": "x", "type": "quantitative"}, "y": {"field": "y", "type": "quantitative"}, "stroke": {"field": "s", "type": "nominal", "scale": {"domain": ["UeqM1", "UeqT3", "No shear", "Polynomial fit"], "range": ["#000000", "#cdcdcd", "#000000", "#000000"]}}}},
  {"transform": [{"filter": "datum.s === 'No shear'"}],
   "mark": {"type": "point", "filled": true, "size": 110, "strokeWidth": 0, "opacity": 1, "clip": true},
   "encoding": {
     "x": {"field": "x", "type": "quantitative"}, "y": {"field": "y", "type": "quantitative"},
     "fill": {"field": "s", "type": "nominal", "scale": {"domain": ["UeqM1", "UeqT3", "No shear", "Polynomial fit"], "range": ["#000000", "#cdcdcd", "#000000", "#000000"]}},
     "stroke": {"field": "s", "type": "nominal", "scale": {"domain": ["UeqM1", "UeqT3", "No shear", "Polynomial fit"], "range": ["#000000", "#cdcdcd", "#000000", "#000000"]}},
     "shape": {"field": "s", "type": "nominal", "scale": {"domain": ["UeqM1", "UeqT3", "No shear", "Polynomial fit"], "range": ["diamond", "circle", "circle", "stroke"]}}
   }},
  {"data": {"values": [{"label": "(a)"}]},
   "mark": {"type": "text", "font": "Liberation Serif", "fontSize": 30, "fontWeight": "bold", "align": "left", "baseline": "middle", "fill": "#000"},
   "encoding": {"x": {"datum": 5.61, "type": "quantitative"}, "y": {"datum": 1310, "type": "quantitative"}, "text": {"field": "label", "type": "nominal"}}}
 ]
},
{
 "width": 401, "height": 250,
 "title": "Cp, Turbulent flow _ 2 Circles * 10 areas",
 "data": {"name": "cp2"},
 "layer": [
  {"transform": [{"filter": "datum.s === 'UeqT3'"}],
   "mark": {"type": "point", "filled": true, "size": 55, "strokeWidth": 0, "opacity": 1, "clip": true},
   "encoding": {
     "x": {"field": "x", "type": "quantitative", "scale": {"domain": [5.5, 8.5], "nice": false, "zero": false}, "axis": {"values": [6, 6.5, 7, 7.5, 8, 8.5], "format": "~g", "title": "Wind speed (m/s)"}},
     "y": {"field": "y", "type": "quantitative", "scale": {"domain": [0.25, 0.6], "nice": false, "zero": false}, "axis": {"values": [0.3, 0.35, 0.4, 0.45, 0.5, 0.55], "format": ".2~f", "title": "Cp ()", "gridColor": {"condition": {"test": "datum.value === 0.5", "value": "#000"}, "value": "#999"}, "gridDash": {"condition": {"test": "datum.value === 0.5", "value": []}, "value": [2, 2]}}},
     "fill": {"field": "s", "type": "nominal", "scale": {"domain": ["UeqM1", "UeqT3", "No shear", "Polynomial fit"], "range": ["#000000", "#cdcdcd", "#000000", "#000000"]}, "legend": {"title": null, "orient": "none", "legendX": 17, "legendY": 157, "fillColor": "white", "padding": 4, "rowPadding": 2, "labelOffset": 12, "symbolOffset": 9, "labelFontSize": 20, "labelFont": "Liberation Serif", "symbolSize": {"expr": "datum.value === 'Polynomial fit' ? 625 : datum.value === 'UeqT3' ? 12 : 64"}, "symbolStrokeWidth": {"expr": "datum.value === 'Polynomial fit' ? 2 : 0"}}},
     "stroke": {"field": "s", "type": "nominal", "scale": {"domain": ["UeqM1", "UeqT3", "No shear", "Polynomial fit"], "range": ["#000000", "#cdcdcd", "#000000", "#000000"]}, "legend": {"title": null, "orient": "none", "legendX": 17, "legendY": 157, "fillColor": "white", "padding": 4, "rowPadding": 2, "labelOffset": 12, "symbolOffset": 9, "labelFontSize": 20, "labelFont": "Liberation Serif", "symbolSize": {"expr": "datum.value === 'Polynomial fit' ? 625 : datum.value === 'UeqT3' ? 12 : 64"}, "symbolStrokeWidth": {"expr": "datum.value === 'Polynomial fit' ? 2 : 0"}}},
     "shape": {"field": "s", "type": "nominal", "scale": {"domain": ["UeqM1", "UeqT3", "No shear", "Polynomial fit"], "range": ["diamond", "circle", "circle", "stroke"]}, "legend": {"title": null, "orient": "none", "legendX": 17, "legendY": 157, "fillColor": "white", "padding": 4, "rowPadding": 2, "labelOffset": 12, "symbolOffset": 9, "labelFontSize": 20, "labelFont": "Liberation Serif", "symbolSize": {"expr": "datum.value === 'Polynomial fit' ? 625 : datum.value === 'UeqT3' ? 12 : 64"}, "symbolStrokeWidth": {"expr": "datum.value === 'Polynomial fit' ? 2 : 0"}}}
   }},
  {"transform": [{"filter": "datum.s === 'UeqM1'"}],
   "mark": {"type": "point", "filled": true, "size": 200, "strokeWidth": 0, "opacity": 1, "clip": true},
   "encoding": {
     "x": {"field": "x", "type": "quantitative"}, "y": {"field": "y", "type": "quantitative"},
     "fill": {"field": "s", "type": "nominal", "scale": {"domain": ["UeqM1", "UeqT3", "No shear", "Polynomial fit"], "range": ["#000000", "#cdcdcd", "#000000", "#000000"]}},
     "stroke": {"field": "s", "type": "nominal", "scale": {"domain": ["UeqM1", "UeqT3", "No shear", "Polynomial fit"], "range": ["#000000", "#cdcdcd", "#000000", "#000000"]}},
     "shape": {"field": "s", "type": "nominal", "scale": {"domain": ["UeqM1", "UeqT3", "No shear", "Polynomial fit"], "range": ["diamond", "circle", "circle", "stroke"]}}
   }},
  {"transform": [{"filter": "datum.s === 'Polynomial fit'"}],
   "mark": {"type": "line", "strokeWidth": 2, "clip": true},
   "encoding": {"x": {"field": "x", "type": "quantitative"}, "y": {"field": "y", "type": "quantitative"}, "stroke": {"field": "s", "type": "nominal", "scale": {"domain": ["UeqM1", "UeqT3", "No shear", "Polynomial fit"], "range": ["#000000", "#cdcdcd", "#000000", "#000000"]}}}},
  {"transform": [{"filter": "datum.s === 'No shear'"}],
   "mark": {"type": "point", "filled": true, "size": 110, "strokeWidth": 0, "opacity": 1, "clip": true},
   "encoding": {
     "x": {"field": "x", "type": "quantitative"}, "y": {"field": "y", "type": "quantitative"},
     "fill": {"field": "s", "type": "nominal", "scale": {"domain": ["UeqM1", "UeqT3", "No shear", "Polynomial fit"], "range": ["#000000", "#cdcdcd", "#000000", "#000000"]}},
     "stroke": {"field": "s", "type": "nominal", "scale": {"domain": ["UeqM1", "UeqT3", "No shear", "Polynomial fit"], "range": ["#000000", "#cdcdcd", "#000000", "#000000"]}},
     "shape": {"field": "s", "type": "nominal", "scale": {"domain": ["UeqM1", "UeqT3", "No shear", "Polynomial fit"], "range": ["diamond", "circle", "circle", "stroke"]}}
   }},
  {"data": {"values": [{"label": "(b)"}]},
   "mark": {"type": "text", "font": "Liberation Serif", "fontSize": 30, "fontWeight": "bold", "align": "left", "baseline": "middle", "fill": "#000"},
   "encoding": {"x": {"datum": 5.635, "type": "quantitative"}, "y": {"datum": 0.524, "type": "quantitative"}, "text": {"field": "label", "type": "nominal"}}}
 ]
}
]
}
